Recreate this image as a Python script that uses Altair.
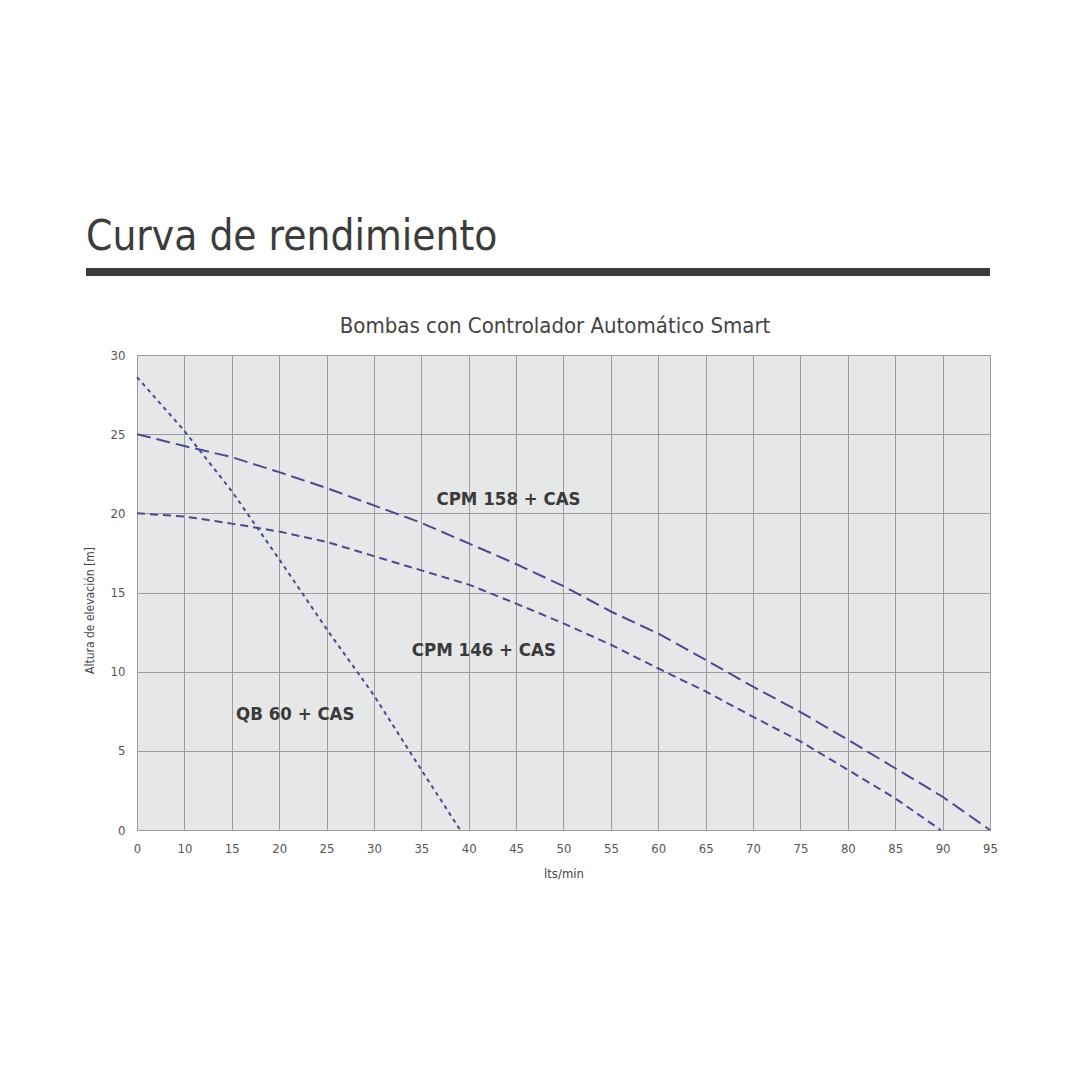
import altair as alt
import pandas as pd

# ---- data ----
qb_x = [0, 10, 15, 20, 25, 30, 35, 39.1]
qb_y = [28.6, 25.2, 21.4, 17.1, 12.7, 8.5, 3.8, 0]

c158_x = [0, 10, 15, 20, 25, 30, 35, 40, 45, 50, 55, 60, 65, 70, 75, 80, 85, 90, 95]
c158_y = [25.0, 24.25, 23.55, 22.6, 21.6, 20.5, 19.4, 18.1, 16.8, 15.4, 13.8, 12.4, 10.75, 9.05, 7.45, 5.7, 3.9, 2.1, 0]

c146_x = [0, 10, 15, 20, 25, 30, 35, 40, 45, 50, 55, 60, 65, 70, 75, 80, 85, 89.8]
c146_y = [20.0, 19.8, 19.35, 18.85, 18.2, 17.3, 16.4, 15.5, 14.3, 13.05, 11.7, 10.2, 8.75, 7.15, 5.6, 3.8, 2.0, 0]

series_names = ["CPM 158 + CAS", "CPM 146 + CAS", "QB 60 + CAS"]

label_text = ["CPM 158 + CAS", "CPM 146 + CAS", "QB 60 + CAS"]
label_x = [44.2, 41.6, 21.7]
label_y = [20.9, 11.4, 7.3]

x_ticks = [0, 10, 15, 20, 25, 30, 35, 40, 45, 50, 55, 60, 65, 70, 75, 80, 85, 90, 95]
y_ticks = [0, 5, 10, 15, 20, 25, 30]

TITLE = "Curva de rendimiento"
SUBTITLE = "Bombas con Controlador Automático Smart"
X_TITLE = "lts/min"
Y_TITLE = "Altura de elevación [m]"

# ---- build table ----
rows = []
for name, xs, ys in [(series_names[0], c158_x, c158_y),
                     (series_names[1], c146_x, c146_y),
                     (series_names[2], qb_x, qb_y)]:
    for i, (a, b) in enumerate(zip(xs, ys)):
        rows.append({"serie": name, "q": a, "h": b, "i": i})
df = pd.DataFrame(rows)
labels = pd.DataFrame({"t": label_text, "q": label_x, "h": label_y})

W, H = 853, 475
FONT = "DejaVu Sans Condensed, Liberation Sans Narrow, sans-serif"
LINE_COLOR = "#4b4a8e"
GRID = "#9c9c9c"

xscale = alt.Scale(domain=[0, 10, 95], range=[0, W / 18, W], nice=False)
yscale = alt.Scale(domain=[0, 30], nice=False)

xaxis = alt.Axis(values=x_ticks, title=X_TITLE, grid=True, gridColor=GRID, gridOpacity=1,
                 domain=False, ticks=False, labelPadding=12, labelFontSize=13,
                 labelFlush=False, labelOverlap=False,
                 labelColor="#555555", labelFont=FONT, titleFont=FONT, titleFontSize=13,
                 titleFontWeight="normal", titleColor="#444444", titlePadding=12)
yaxis = alt.Axis(values=y_ticks, title=Y_TITLE, grid=True, gridColor=GRID, gridOpacity=1,
                 domain=False, ticks=False, labelPadding=12, labelFontSize=13,
                 labelFlush=False,
                 labelColor="#555555", labelFont=FONT, titleFont=FONT, titleFontSize=12,
                 titleFontWeight="normal", titleColor="#444444", titlePadding=14,
                 titleY=255)

lines = alt.Chart(df).mark_line(strokeWidth=2, color=LINE_COLOR).encode(
    x=alt.X("q:Q", scale=xscale, axis=xaxis),
    y=alt.Y("h:Q", scale=yscale, axis=yaxis),
    strokeDash=alt.StrokeDash("serie:N",
                              scale=alt.Scale(domain=series_names,
                                              range=[[14, 6], [8, 5], [4, 4]]),
                              legend=None),
    detail="serie:N",
    order="i:Q",
)

text_labels = alt.Chart(labels).mark_text(font=FONT, fontSize=18.5, fontWeight="bold",
                                          color="#3a3a3a", align="center",
                                          baseline="middle").encode(
    x=alt.X("q:Q", scale=xscale),
    y=alt.Y("h:Q", scale=yscale),
    text="t:N",
)

title_df = pd.DataFrame({"t": [TITLE]})
sub_df = pd.DataFrame({"t": [SUBTITLE]})

big_title = alt.Chart(title_df).mark_text(font=FONT, fontSize=42, color="#3c3c3c",
                                          align="left", baseline="alphabetic").encode(
    x=alt.value(-51), y=alt.value(-105), text="t:N")

bar = alt.Chart(title_df).mark_rule(color="#3c3c3c", strokeWidth=8).encode(
    x=alt.value(-51), x2=alt.value(W), y=alt.value(-83))

subtitle = alt.Chart(sub_df).mark_text(font=FONT, fontSize=22, color="#444444",
                                       align="center", baseline="alphabetic").encode(
    x=alt.value(418), y=alt.value(-22), text="t:N")

chart = alt.layer(lines, text_labels, big_title, bar, subtitle).properties(
    width=W, height=H,
    autosize=alt.AutoSizeParams(type="none"),
    padding={"left": 129, "top": 347, "right": 40, "bottom": 120},
    background="white",
).configure_view(fill="#e6e7e9", stroke=GRID, strokeWidth=1)

chart.save("out.html", embed_options={"renderer": "svg", "actions": False})
